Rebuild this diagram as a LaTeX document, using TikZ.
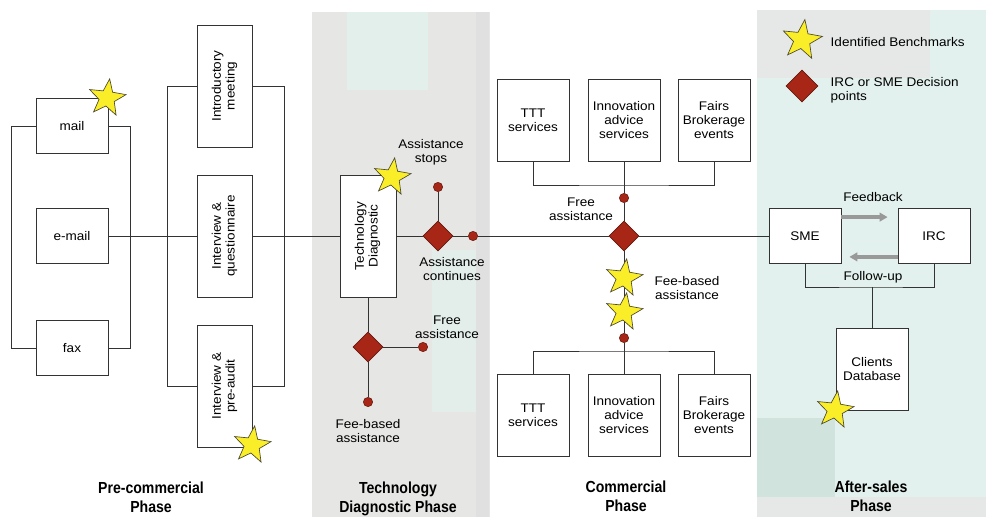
\documentclass[tikz,border=0pt]{standalone}
\usepackage{fontspec}
\usepackage{graphicx}
\setmainfont[FakeStretch=1.08]{Liberation Sans}
\newfontfamily\phasefont[FakeStretch=0.88]{Liberation Sans}
\usetikzlibrary{shapes.geometric,arrows.meta}

\definecolor{decred}{RGB}{168,38,22}
\definecolor{stary}{RGB}{250,238,40}
\definecolor{tealbg}{RGB}{226,241,237}
\definecolor{greybg}{RGB}{230,230,228}
\definecolor{tealdark}{RGB}{208,227,220}

\newcommand{\vtext}[1]{\rotatebox{90}{\begin{tabular}{@{}c@{}}#1\end{tabular}}}

\begin{document}
\begin{tikzpicture}[x=0.75pt,y=-0.75pt,
	lbl/.style={font=\fontsize{9.4}{10.2}\selectfont, align=center},
	box/.style={lbl, draw=black!80, line width=0.6pt, fill=white, inner sep=0pt, minimum width=54pt, minimum height=41.25pt},
	vbox/.style={box, minimum width=41.25pt, minimum height=91.5pt},
	sbox/.style={box, minimum height=61.5pt},
	decision/.style={diamond, fill=decred, draw=decred!60!black, line width=0.5pt, inner sep=0pt, minimum width=22.5pt, minimum height=22.5pt},
	dot/.style={circle, fill=decred, draw=decred!60!black, line width=0.4pt, inner sep=0pt, minimum size=7pt},
	bench/.style={star, star points=5, star point ratio=2.4, fill=stary, draw=black!60!olive, line width=0.5pt, inner sep=0pt, minimum size=29pt, rotate=-8},
	phase/.style={font=\phasefont\bfseries\fontsize{12}{14}\selectfont, align=center},
	link/.style={draw=black!80, line width=0.6pt},
	feed/.style={draw=black!40, line width=2.6pt, -{Triangle[length=6pt,width=6.5pt]}}
]
	\useasboundingbox (0,0) rectangle (986,517);
	
	% shaded columns
	\fill[greybg] (312,12) rectangle (490,517);
	\fill[tealbg!80!greybg] (347,12) rectangle (428,90);
	\fill[tealbg!70!greybg] (432,250) rectangle (486,412);
	\fill[black!12] (476,12) rectangle (489,517);
	\fill[tealbg] (757,10) rectangle (986,517);
	\fill[greybg!80!tealbg] (757,10) rectangle (930,78);
	\fill[tealdark] (757,418) rectangle (835,497);
	\fill[greybg!80!tealbg] (757,497) rectangle (986,517);
	
	% pre-commercial
	\node[box] (mail) at (72,126) {mail};
	\node[box] (email) at (72,236) {e-mail};
	\node[box] (fax) at (72,348) {fax};
	\node[vbox] (intro) at (225,86) {\vtext{Introductory\\meeting}};
	\node[vbox] (quest) at (225,236) {\vtext{Interview \&\\questionnaire}};
	\node[vbox] (audit) at (225,386) {\vtext{Interview \&\\pre-audit}};
	
	% technology diagnostic
	\node[vbox, minimum width=42pt] (diag) at (368,236) {\vtext{Technology\\Diagnostic}};
	\node[decision] (stopdec) at (438,236) {};
	\node[dot] (stopdot) at (438,187) {};
	\node[dot] (contdot) at (473,236) {};
	\node[decision] (feedec) at (368,347) {};
	\node[dot] (freedot) at (423,347) {};
	\node[dot] (feedot) at (368,402) {};
	
	% commercial
	\node[sbox] (ttta) at (533,120) {TTT\\services};
	\node[sbox] (innoa) at (624,120) {Innovation\\advice\\services};
	\node[sbox] (fairsa) at (714,120) {Fairs\\Brokerage\\events};
	\node[decision] (comdec) at (624,236) {};
	\node[dot] (comtop) at (624,198) {};
	\node[dot] (combot) at (624,338) {};
	\node[sbox] (tttb) at (533,415) {TTT\\services};
	\node[sbox] (innob) at (624,415) {Innovation\\advice\\services};
	\node[sbox] (fairsb) at (714,415) {Fairs\\Brokerage\\events};
	\coordinate (jtop) at (624,185);
	\coordinate (jbot) at (624,351);
	
	% after-sales
	\node[box] (sme) at (805,236) {SME};
	\node[box] (irc) at (934,236) {IRC};
	\node[box, minimum height=61.5pt] (clients) at (872,369) {Clients\\Database};
	\coordinate (jas) at (872,287);
	
	% connectors
	\draw[link] (mail.west) -- ++(-24,0) |- (fax.west);
	\draw[link] (mail.east) -- ++(22,0) |- (fax.east);
	\draw[link] (email.east) -- (quest.west);
	\draw[link] (intro.west) -- ++(-30,0) |- (audit.west);
	\draw[link] (intro.east) -- ++(31,0) |- (audit.east);
	\draw[link] (quest.east) -- (diag.west);
	\draw[link] (diag) -- (stopdec);
	\draw[link] (stopdec) -- (stopdot);
	\draw[link] (stopdec) -- (contdot);
	\draw[link] (contdot) -- (comdec);
	\draw[link] (diag) -- (feedec);
	\draw[link] (feedec) -- (freedot);
	\draw[link] (feedec) -- (feedot);
	\draw[link] (ttta.south) |- (jtop) -| (fairsa.south);
	\draw[link] (innoa.south) -- (comtop);
	\draw[link] (comtop) -- (comdec);
	\draw[link] (comdec) -- (combot);
	\draw[link] (combot) -- (jbot);
	\draw[link] (tttb.north) |- (jbot) -| (fairsb.north);
	\draw[link] (jbot) -- (innob.north);
	\draw[link] (comdec) -- (sme);
	\draw[link] (sme.south) |- (jas) -| (irc.south);
	\draw[link] (jas) -- (clients.north);
	\draw[feed] ([yshift=-6.75pt]sme.north east) -- ([yshift=-6.75pt,xshift=-7.5pt]irc.north west);
	\draw[feed] ([yshift=5.25pt]irc.south west) -- ([yshift=5.25pt,xshift=6pt]sme.south east);
	
	% labels
	\node[lbl] (stoplbl) at (431,152) {Assistance\\stops};
	\node[lbl] (contlbl) at (452,269) {Assistance\\continues};
	\node[lbl] (freelbl) at (447,327) {Free\\assistance};
	\node[lbl] (feelbl) at (368,431) {Fee-based\\assistance};
	\node[lbl] (comfree) at (581,209) {Free\\assistance};
	\node[lbl] (comfee) at (687,288) {Fee-based\\assistance};
	\node[lbl] (feedlbl) at (873,197) {Feedback};
	\node[lbl] (follow) at (873,277) {Follow-up};
	
	% benchmarks
	\node[bench] (smail) at (107,98) {};
	\node[bench] (saudit) at (252,445) {};
	\node[bench] (sdiag) at (392,177) {};
	\node[bench] (sfeea) at (624,278) {};
	\node[bench] (sfeeb) at (624,312) {};
	\node[bench] (sclients) at (835,410) {};
	
	% legend
	\node[bench, minimum size=31pt] (legstar) at (802,40) {};
	\node[lbl, anchor=west] (legstartxt) at (826,42) {Identified Benchmarks};
	\node[decision, minimum width=24pt, minimum height=24pt] (legdec) at (802,86) {};
	\node[lbl, anchor=west, align=left] (legdectxt) at (826,90) {IRC or SME Decision\\points};
	
	% phases
	\node[phase] (prephase) at (151,497) {Pre-commercial\\Phase};
	\node[phase] (diagphase) at (398,499) {Technology\\Diagnostic Phase};
	\node[phase] (comphase) at (626,496) {Commercial\\Phase};
	\node[phase] (afterphase) at (871,496) {After-sales\\Phase};
\end{tikzpicture}
\end{document}
